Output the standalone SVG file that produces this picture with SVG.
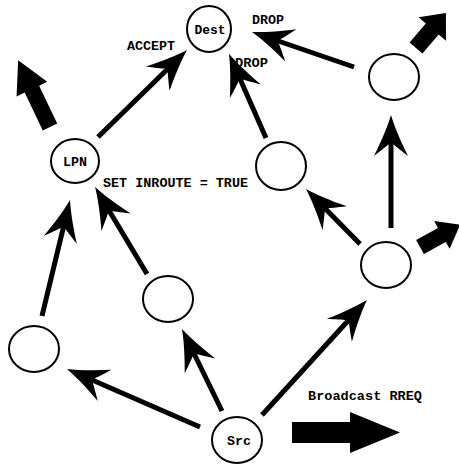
<svg xmlns="http://www.w3.org/2000/svg" width="459" height="468" viewBox="0 0 459 468">
<style>
.node{fill:#fff;stroke:#000;stroke-width:2}
.lbl{font-family:"Liberation Mono","DejaVu Sans Mono",monospace;font-weight:bold;font-size:13.5px;fill:#000}
.nl{text-anchor:middle}
.conn line{stroke:#000;stroke-width:5;marker-end:url(#ah)}
.fat{fill:#000}
</style>
<defs>
<marker id="ah" viewBox="-45 -20 50 40" markerWidth="50" markerHeight="40" refX="-20" refY="0" orient="auto" markerUnits="userSpaceOnUse" overflow="visible">
<path d="M0,0 C-10,3 -25,9 -41,17 C-34,8 -30,3 -27,0 C-30,-3 -34,-8 -41,-17 C-25,-9 -10,-3 0,0 Z" fill="#000"/>
</marker>
</defs>
<rect width="459" height="468" fill="#fff"/>
<g id="connectors" class="conn">
<line x1="98" y1="137" x2="172.7" y2="64"/>
<line x1="354" y1="67" x2="270.9" y2="38.5"/>
<line x1="266" y1="138" x2="237" y2="72"/>
<line x1="391" y1="228" x2="391" y2="135"/>
<line x1="360" y1="244" x2="320" y2="203.3"/>
<line x1="262" y1="415" x2="353.5" y2="314.8"/>
<line x1="222" y1="411" x2="190.8" y2="347"/>
<line x1="200" y1="427" x2="85.3" y2="377"/>
<line x1="42" y1="316" x2="65.3" y2="219.4"/>
<line x1="147" y1="274" x2="105.3" y2="204.2"/>
</g>
<g id="broadcast-arrows">
<polygon class="fat" transform="translate(50,127) rotate(-115.5)" points="0,-8 42,-8 42,-17 74,0 42,17 42,8 0,8"/>
<polygon class="fat" transform="translate(416,48) rotate(-49.4)" points="0,-8.5 25,-8.5 25,-18 46,0 25,18 25,8.5 0,8.5"/>
<polygon class="fat" transform="translate(420,247) rotate(-29)" points="0,-8 25,-8 25,-16 46,0 25,16 25,8 0,8"/>
<polygon class="fat" points="292,422 350,422 350,412 400,432.5 350,453 350,443 292,443"/>
</g>
<g id="node-dest"><ellipse class="node" cx="209" cy="29" rx="22" ry="23"/><text class="lbl nl" x="210" y="34" textLength="31" lengthAdjust="spacingAndGlyphs">Dest</text></g>
<g id="node-lpn"><ellipse class="node" cx="75" cy="161" rx="24" ry="22"/><text class="lbl nl" x="75" y="166" textLength="24" lengthAdjust="spacingAndGlyphs">LPN</text></g>
<g id="node-tr"><ellipse class="node" cx="394" cy="77" rx="25" ry="23"/></g>
<g id="node-mid"><ellipse class="node" cx="281" cy="166" rx="25" ry="24"/></g>
<g id="node-right"><ellipse class="node" cx="386" cy="265" rx="25" ry="23"/></g>
<g id="node-ml"><ellipse class="node" cx="168" cy="299" rx="25" ry="23"/></g>
<g id="node-ll"><ellipse class="node" cx="34" cy="349" rx="25" ry="23"/></g>
<g id="node-src"><ellipse class="node" cx="237" cy="440" rx="25" ry="23"/><text class="lbl nl" x="239" y="445" textLength="24" lengthAdjust="spacingAndGlyphs">Src</text></g>
<g id="labels">
<text class="lbl" x="127" y="50" textLength="48" lengthAdjust="spacingAndGlyphs">ACCEPT</text>
<text class="lbl" x="252" y="24" textLength="32" lengthAdjust="spacingAndGlyphs">DROP</text>
<text class="lbl" x="235" y="67" textLength="33" lengthAdjust="spacingAndGlyphs">DROP</text>
<text class="lbl" x="103" y="187" textLength="145" lengthAdjust="spacingAndGlyphs">SET INROUTE = TRUE</text>
<text class="lbl" x="308" y="400" textLength="114" lengthAdjust="spacingAndGlyphs">Broadcast RREQ</text>
</g>
</svg>
